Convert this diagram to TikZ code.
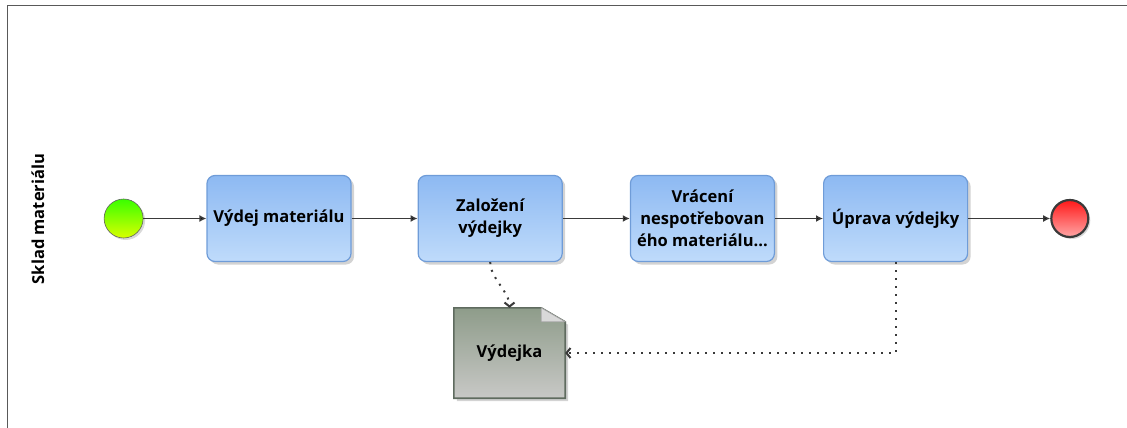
\documentclass[tikz,border=0pt]{standalone}
\usepackage{fontspec}
\setmainfont{Open Sans}
\usetikzlibrary{positioning,shadows,arrows.meta,backgrounds}
\definecolor{tasktop}{HTML}{8DB9F2}
\definecolor{taskbot}{HTML}{BFDBFB}
\definecolor{taskedge}{HTML}{6F9CD8}
\definecolor{flowgray}{HTML}{3A3A3A}
\definecolor{datatop}{HTML}{8E9C8A}
\definecolor{databot}{HTML}{C8C8C6}
\definecolor{dataedge}{HTML}{5F6B5F}
\tikzset{task node/.style={rectangle,rounded corners=8pt,draw=taskedge,line width=1.2pt,top color=tasktop,bottom color=taskbot,minimum width=144pt,minimum height=86pt,inner sep=2pt,align=center,font=\bfseries\fontsize{16.5}{22}\selectfont,drop shadow={opacity=0.35,shadow xshift=3pt,shadow yshift=-3pt}},
	start node/.style={circle,draw=flowgray!80,line width=0.6pt,top color=green!70!lime,bottom color=lime!60!yellow,minimum size=39pt,inner sep=0pt,drop shadow={opacity=0.3,shadow xshift=2pt,shadow yshift=-2pt}},
	end node/.style={circle,draw=flowgray,line width=2.2pt,top color=red!90,bottom color=red!35,minimum size=37pt,inner sep=0pt,drop shadow={opacity=0.3,shadow xshift=2pt,shadow yshift=-2pt}},
	flow/.style={draw=flowgray,line width=1.4pt,-{Latex[length=7pt,width=7pt]}},
	assoc/.style={draw=flowgray,line width=2pt,dash pattern=on 2pt off 6pt,-{Straight Barb[length=4pt,width=10pt]}},
}

\begin{document}
\begin{tikzpicture}[x=1pt,y=-1pt]
		\useasboundingbox (0,0) rectangle (1127,428);
		\draw[gray!70!black,line width=1pt] (1127,6) -- (7,6) -- (7,428);
		\node[rotate=90,font=\bfseries\fontsize{16.5}{18}\selectfont] (lane) at (38,219) {Sklad materiálu};
		
		\node[task node] (vydej) at (279,218.5) {Výdej materiálu};
		\node[task node] (zalozeni) [right =66pt of vydej] {Založení\\výdejky};
		\node[task node] (vraceni) [right =67pt of zalozeni] {Vrácení\\nespotřebovan\\ého materiálu...};
		\node[task node] (uprava) [right =48pt of vraceni] {Úprava výdejky};
		\node[start node] (start) [left =63pt of vydej] {};
		\node[end node] (konec) [right =82pt of uprava] {};
		
		% datovy objekt
		\node[minimum width=111pt,minimum height=90pt,font=\bfseries\fontsize{16.5}{18}\selectfont] (vydejka) at (509.5,353) {Výdejka};
		\begin{pgfonlayer}{background}
		\path[draw=dataedge,line width=1.6pt,top color=datatop,bottom color=databot,drop shadow={opacity=0.35,shadow xshift=3pt,shadow yshift=-3pt}]
		(vydejka.north west) -- ([xshift=-24pt]vydejka.north east) -- ([yshift=-14pt]vydejka.north east)
		-- (vydejka.south east) -- (vydejka.south west) -- cycle;
		\path[draw=gray!70,line width=0.8pt,fill=gray!30] ([xshift=-24pt]vydejka.north east) -- ([xshift=-24pt,yshift=-14pt]vydejka.north east) -- ([yshift=-14pt]vydejka.north east) -- cycle;
		\end{pgfonlayer}
		
		\path[flow]
		(start) edge (vydej)
		(vydej) edge (zalozeni)
		(zalozeni) edge (vraceni)
		(vraceni) edge (uprava)
		(uprava) edge (konec);
		
		\draw[assoc] (zalozeni.south) .. controls +(0,16) and +(0,-16) .. (vydejka.north);
		\draw[assoc] (uprava.south) |- (vydejka.east);
		
	\end{tikzpicture}
\end{document}
